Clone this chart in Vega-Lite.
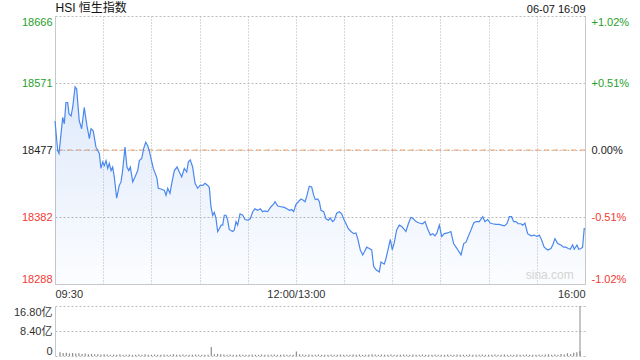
{
  "$schema": "https://vega.github.io/schema/vega-lite/v6.json",
  "background": "white",
  "padding": {"left": 13, "top": 1, "right": 5, "bottom": 0},
  "spacing": 6,
  "config": {
    "view": {"stroke": null},
    "font": "Liberation Sans, Noto Sans CJK SC",
    "axis": {
      "labelFont": "Liberation Sans, Noto Sans CJK SC",
      "labelFontSize": 11,
      "labelColor": "#333333",
      "ticks": false,
      "tickSize": 0,
      "labelOverlap": false,
      "title": null,
      "gridColor": "#b4b4b4",
      "gridOpacity": 1,
      "gridWidth": 1,
      "gridDash": [1, 2],
      "domainColor": "#c8c8c8"
    }
  },
  "datasets": {
    "px": [
      {"m":0,"v":18518},{"m":1.7,"v":18476},{"m":2.5,"v":18472},{"m":4.8,"v":18523},{"m":5.8,"v":18514},{"m":6.8,"v":18544},{"m":7.9,"v":18544},{"m":8.7,"v":18528},{"m":10,"v":18525},{"m":11,"v":18537},{"m":12.5,"v":18566},{"m":13.5,"v":18563},{"m":15.1,"v":18518},{"m":16.6,"v":18507},{"m":18.2,"v":18537},{"m":19.9,"v":18511},{"m":21.4,"v":18493},{"m":22.4,"v":18507},{"m":23.8,"v":18504},{"m":25.5,"v":18481},{"m":27.6,"v":18472},{"m":28.6,"v":18451},{"m":29.7,"v":18460},{"m":30.7,"v":18455},{"m":31.8,"v":18462},{"m":32.8,"v":18451},{"m":33.8,"v":18458},{"m":34.9,"v":18448},{"m":35.9,"v":18453},{"m":36.9,"v":18439},{"m":38.4,"v":18409},{"m":40,"v":18427},{"m":41.1,"v":18432},{"m":42.1,"v":18448},{"m":43.6,"v":18481},{"m":44.8,"v":18453},{"m":45.9,"v":18448},{"m":46.9,"v":18453},{"m":48.4,"v":18432},{"m":49.8,"v":18439},{"m":51.5,"v":18448},{"m":52.5,"v":18462},{"m":54,"v":18465},{"m":55.2,"v":18479},{"m":56.5,"v":18488},{"m":57.7,"v":18483},{"m":58.7,"v":18476},{"m":59.8,"v":18465},{"m":61.2,"v":18451},{"m":62.4,"v":18444},{"m":63.5,"v":18437},{"m":64.3,"v":18423},{"m":66,"v":18422},{"m":68.1,"v":18420},{"m":69.1,"v":18413},{"m":70.2,"v":18423},{"m":71.6,"v":18416},{"m":72.7,"v":18430},{"m":74.3,"v":18448},{"m":76,"v":18453},{"m":77.4,"v":18446},{"m":78.9,"v":18439},{"m":80.5,"v":18451},{"m":82,"v":18446},{"m":83,"v":18460},{"m":84.2,"v":18463},{"m":85.7,"v":18453},{"m":87.2,"v":18430},{"m":88.8,"v":18423},{"m":90.3,"v":18427},{"m":92,"v":18427},{"m":93.4,"v":18430},{"m":95.1,"v":18427},{"m":96.1,"v":18424},{"m":97.1,"v":18397},{"m":98.2,"v":18385},{"m":99.2,"v":18389},{"m":100.2,"v":18381},{"m":101.3,"v":18362},{"m":102.3,"v":18366},{"m":103.4,"v":18371},{"m":104.4,"v":18371},{"m":105.4,"v":18385},{"m":106.5,"v":18385},{"m":107.5,"v":18378},{"m":108.5,"v":18365},{"m":110.6,"v":18362},{"m":111.6,"v":18364},{"m":112.7,"v":18376},{"m":113.7,"v":18371},{"m":115.2,"v":18387},{"m":116.9,"v":18385},{"m":118.3,"v":18379},{"m":120,"v":18378},{"m":121.6,"v":18380},{"m":123.1,"v":18390},{"m":124.5,"v":18394},{"m":126.2,"v":18392},{"m":127.8,"v":18394},{"m":129.3,"v":18390},{"m":130.3,"v":18391},{"m":132.4,"v":18390},{"m":134.5,"v":18397},{"m":136.2,"v":18401},{"m":137,"v":18404},{"m":138.7,"v":18398},{"m":140.7,"v":18397},{"m":142.8,"v":18396},{"m":144.4,"v":18394},{"m":145.9,"v":18392},{"m":147.4,"v":18393},{"m":148.6,"v":18390},{"m":150,"v":18400},{"m":151.5,"v":18404},{"m":153.2,"v":18408},{"m":154.6,"v":18406},{"m":155.7,"v":18404},{"m":156.9,"v":18413},{"m":158.3,"v":18426},{"m":159.8,"v":18425},{"m":161.1,"v":18413},{"m":162.1,"v":18407},{"m":163.6,"v":18408},{"m":164.6,"v":18404},{"m":165.6,"v":18392},{"m":167.3,"v":18390},{"m":168.7,"v":18380},{"m":170.2,"v":18378},{"m":171.4,"v":18381},{"m":172.9,"v":18376},{"m":173.9,"v":18378},{"m":175.4,"v":18388},{"m":177,"v":18390},{"m":178.5,"v":18387},{"m":179.7,"v":18380},{"m":181.2,"v":18373},{"m":182.6,"v":18366},{"m":184.3,"v":18362},{"m":186,"v":18359},{"m":187.4,"v":18360},{"m":188.5,"v":18352},{"m":190.1,"v":18336},{"m":191.6,"v":18329},{"m":192.6,"v":18333},{"m":194.1,"v":18340},{"m":195.7,"v":18338},{"m":197.2,"v":18336},{"m":198.4,"v":18313},{"m":199.9,"v":18308},{"m":201.9,"v":18305},{"m":203,"v":18319},{"m":205,"v":18316},{"m":206.1,"v":18324},{"m":207.5,"v":18338},{"m":208.8,"v":18351},{"m":210,"v":18336},{"m":211.3,"v":18347},{"m":212.7,"v":18364},{"m":213.6,"v":18368},{"m":214.4,"v":18371},{"m":215.9,"v":18369},{"m":217.1,"v":18366},{"m":218.5,"v":18362},{"m":220,"v":18373},{"m":221.6,"v":18382},{"m":223.1,"v":18380},{"m":224.8,"v":18376},{"m":226.8,"v":18374},{"m":228.9,"v":18373},{"m":230.4,"v":18376},{"m":232,"v":18366},{"m":233.7,"v":18357},{"m":235.2,"v":18359},{"m":236.6,"v":18356},{"m":237.8,"v":18360},{"m":239.3,"v":18371},{"m":240.8,"v":18355},{"m":242.4,"v":18359},{"m":244.5,"v":18360},{"m":246.5,"v":18362},{"m":248.2,"v":18345},{"m":250.3,"v":18338},{"m":251.7,"v":18333},{"m":252.8,"v":18329},{"m":254.5,"v":18345},{"m":255.9,"v":18347},{"m":257.3,"v":18355},{"m":259,"v":18364},{"m":260.7,"v":18374},{"m":262.1,"v":18376},{"m":264.2,"v":18376},{"m":266.3,"v":18383},{"m":267.7,"v":18376},{"m":269.4,"v":18379},{"m":271,"v":18374},{"m":272.5,"v":18373},{"m":274.6,"v":18372},{"m":276.6,"v":18372},{"m":278.1,"v":18371},{"m":279.8,"v":18370},{"m":281.4,"v":18373},{"m":282.9,"v":18383},{"m":284.3,"v":18383},{"m":285.6,"v":18376},{"m":287,"v":18376},{"m":288.4,"v":18373},{"m":290.1,"v":18373},{"m":291.2,"v":18371},{"m":292.6,"v":18374},{"m":294.3,"v":18359},{"m":296.4,"v":18356},{"m":298.4,"v":18357},{"m":300.1,"v":18355},{"m":301.5,"v":18357},{"m":303,"v":18350},{"m":304.6,"v":18340},{"m":306.8,"v":18336},{"m":308.8,"v":18338},{"m":309.9,"v":18343},{"m":311.3,"v":18352},{"m":313,"v":18345},{"m":315,"v":18343},{"m":316.7,"v":18340},{"m":318.1,"v":18340},{"m":319.6,"v":18338},{"m":320.8,"v":18337},{"m":322.3,"v":18343},{"m":323.3,"v":18337},{"m":325,"v":18343},{"m":326.1,"v":18337},{"m":327.5,"v":18338},{"m":328.5,"v":18340},{"m":329.5,"v":18366},{"m":330,"v":18366}
    ],
    "vol": [
      {"m":0,"q":1.3},{"m":2,"q":1.0},{"m":4,"q":1.1},{"m":6,"q":0.9},{"m":8,"q":1.0},{"m":10,"q":0.8},{"m":12,"q":0.9},{"m":14,"q":0.7},{"m":16,"q":0.8},{"m":18,"q":0.6},{"m":20,"q":0.7},{"m":22,"q":0.6},{"m":24,"q":0.6},{"m":26,"q":0.5},{"m":28,"q":0.6},{"m":30,"q":0.5},{"m":32,"q":0.4},{"m":34,"q":0.5},{"m":36,"q":0.4},{"m":38,"q":0.6},{"m":40,"q":0.4},{"m":42,"q":0.4},{"m":44,"q":0.5},{"m":46,"q":0.4},{"m":48,"q":0.4},{"m":50,"q":0.5},{"m":52,"q":0.4},{"m":54,"q":0.6},{"m":56,"q":0.4},{"m":58,"q":0.4},{"m":60,"q":0.5},{"m":62,"q":0.4},{"m":64,"q":0.4},{"m":66,"q":0.5},{"m":68,"q":0.4},{"m":70,"q":0.4},{"m":72,"q":0.6},{"m":74,"q":0.4},{"m":76,"q":0.4},{"m":78,"q":0.5},{"m":80,"q":0.4},{"m":82,"q":0.4},{"m":84,"q":0.4},{"m":86,"q":0.5},{"m":88,"q":0.4},{"m":90,"q":0.4},{"m":92,"q":0.4},{"m":94,"q":0.4},{"m":96,"q":3.0},{"m":98,"q":0.6},{"m":100,"q":0.7},{"m":102,"q":0.6},{"m":104,"q":0.5},{"m":106,"q":0.4},{"m":108,"q":0.5},{"m":110,"q":0.4},{"m":112,"q":0.4},{"m":114,"q":0.5},{"m":116,"q":0.4},{"m":118,"q":0.4},{"m":120,"q":0.4},{"m":122,"q":0.5},{"m":124,"q":0.4},{"m":126,"q":0.4},{"m":128,"q":0.5},{"m":130,"q":0.4},{"m":132,"q":0.4},{"m":134,"q":0.4},{"m":136,"q":0.5},{"m":138,"q":0.4},{"m":140,"q":0.4},{"m":142,"q":0.5},{"m":144,"q":0.4},{"m":146,"q":0.4},{"m":148,"q":0.4},{"m":150,"q":1.5},{"m":152,"q":0.6},{"m":154,"q":0.5},{"m":156,"q":0.4},{"m":158,"q":0.5},{"m":160,"q":0.4},{"m":162,"q":0.4},{"m":164,"q":0.5},{"m":166,"q":0.4},{"m":168,"q":0.4},{"m":170,"q":0.4},{"m":172,"q":0.5},{"m":174,"q":0.4},{"m":176,"q":0.4},{"m":178,"q":0.5},{"m":180,"q":0.4},{"m":182,"q":0.4},{"m":184,"q":0.4},{"m":186,"q":0.5},{"m":188,"q":0.4},{"m":190,"q":0.5},{"m":192,"q":0.4},{"m":194,"q":0.4},{"m":196,"q":0.5},{"m":198,"q":0.6},{"m":200,"q":0.5},{"m":202,"q":0.4},{"m":204,"q":0.5},{"m":206,"q":0.4},{"m":208,"q":0.4},{"m":210,"q":0.5},{"m":212,"q":0.4},{"m":214,"q":0.4},{"m":216,"q":0.4},{"m":218,"q":0.5},{"m":220,"q":0.4},{"m":222,"q":0.4},{"m":224,"q":0.5},{"m":226,"q":0.4},{"m":228,"q":0.4},{"m":230,"q":0.5},{"m":232,"q":0.4},{"m":234,"q":0.4},{"m":236,"q":0.4},{"m":238,"q":0.5},{"m":240,"q":0.4},{"m":242,"q":0.4},{"m":244,"q":0.4},{"m":246,"q":0.5},{"m":248,"q":0.4},{"m":250,"q":0.4},{"m":252,"q":0.5},{"m":254,"q":0.4},{"m":256,"q":0.4},{"m":258,"q":0.4},{"m":260,"q":0.5},{"m":262,"q":0.4},{"m":264,"q":0.4},{"m":266,"q":0.4},{"m":268,"q":0.5},{"m":270,"q":0.4},{"m":272,"q":0.4},{"m":274,"q":0.4},{"m":276,"q":0.5},{"m":278,"q":0.4},{"m":280,"q":0.4},{"m":282,"q":0.5},{"m":284,"q":0.4},{"m":286,"q":0.4},{"m":288,"q":0.4},{"m":290,"q":0.5},{"m":292,"q":0.4},{"m":294,"q":0.4},{"m":296,"q":0.5},{"m":298,"q":0.4},{"m":300,"q":0.4},{"m":302,"q":0.4},{"m":304,"q":0.5},{"m":306,"q":0.4},{"m":308,"q":0.5},{"m":310,"q":0.6},{"m":312,"q":0.4},{"m":314,"q":0.5},{"m":316,"q":0.4},{"m":318,"q":0.7},{"m":320,"q":0.5},{"m":322,"q":0.9},{"m":324,"q":0.6},{"m":326,"q":1.1},{"m":328,"q":1.3},{"m":330,"q":1.6}
    ]
  },
  "vconcat": [
    {
      "width": 530,
      "height": 268,
      "layer": [
        {
          "data": {"values": [{"p": 18477}]},
          "mark": {"type": "rule", "color": "#f2a06a", "strokeDash": [5, 4], "strokeWidth": 1},
          "encoding": {
            "y": {"field": "p", "type": "quantitative", "scale": {"domain": [18288, 18666], "nice": false, "zero": false}, "axis": null}
          }
        },
        {
          "data": {"name": "px"},
          "mark": {
            "type": "area",
            "color": {
              "gradient": "linear", "x1": 0, "y1": 0, "x2": 0, "y2": 1,
              "stops": [
                {"offset": 0, "color": "rgba(90,145,235,0.20)"},
                {"offset": 1, "color": "rgba(90,145,235,0.02)"}
              ]
            }
          },
          "encoding": {
            "x": {
              "field": "m", "type": "quantitative",
              "scale": {"domain": [0, 330], "nice": false, "zero": false},
              "axis": {
                "orient": "bottom",
                "values": [0, 30, 60, 90, 120, 150, 180, 210, 240, 270, 300, 330],
                "labelExpr": "datum.value == 0 ? '09:30' : datum.value == 150 ? '12:00/13:00' : datum.value == 330 ? '16:00' : ''",
                "labelFlush": true,
                "labelPadding": 4,
                "grid": true,
                "domain": true
              }
            },
            "y": {
              "field": "v", "type": "quantitative",
              "scale": {"domain": [18288, 18666], "nice": false, "zero": false},
              "axis": {
                "orient": "left",
                "values": [18288, 18382.5, 18477, 18571.5, 18666],
                "labelExpr": "'' + floor(datum.value)",
                "labelFlush": true,
                "labelPadding": 3,
                "grid": true,
                "gridColor": "#bbbbbb",
                "gridDash": [2, 2],
                "domain": true,
                "labelColor": {
                  "condition": [
                    {"test": "datum.value > 18478", "value": "#1f9f2a"},
                    {"test": "datum.value < 18476", "value": "#f03a32"}
                  ],
                  "value": "#222222"
                }
              }
            },
            "y2": {"datum": 18288}
          }
        },
        {
          "data": {"name": "px"},
          "mark": {"type": "line", "color": "#4a88ee", "strokeWidth": 1.2},
          "encoding": {
            "x": {
              "field": "m", "type": "quantitative",
              "scale": {"domain": [0, 330], "nice": false, "zero": false},
              "axis": {
                "orient": "top",
                "values": [0, 330],
                "labelExpr": "datum.value == 0 ? 'HSI 恒生指数' : '06-07 16:09'",
                "labelFlush": true,
                "labelPadding": 2,
                "grid": false,
                "domain": false,
                "labelColor": "#111111",
                "labelFontSize": {"condition": {"test": "datum.value == 0", "value": 12}, "value": 11}
              }
            },
            "y": {
              "field": "v", "type": "quantitative",
              "scale": {"domain": [18288, 18666], "nice": false, "zero": false},
              "axis": {
                "orient": "right",
                "values": [18288, 18382.5, 18477, 18571.5, 18666],
                "labelExpr": "datum.value == 18477 ? '0.00%' : (datum.value > 18477 ? '+' : '-') + format(abs(datum.value - 18477) / 18477 * 100, '.2f') + '%'",
                "labelFlush": true,
                "labelPadding": 6,
                "grid": false,
                "domain": true,
                "labelColor": {
                  "condition": [
                    {"test": "datum.value > 18478", "value": "#1f9f2a"},
                    {"test": "datum.value < 18476", "value": "#f03a32"}
                  ],
                  "value": "#222222"
                }
              }
            }
          }
        },
        {
          "data": {"values": [{"m": 323, "v": 18288, "t": "sina.com"}]},
          "mark": {"type": "text", "align": "right", "baseline": "bottom", "dy": -2, "color": "#d4d4d4", "fontSize": 12},
          "encoding": {
            "x": {"field": "m", "type": "quantitative", "scale": {"domain": [0, 330], "nice": false, "zero": false}, "axis": null},
            "y": {"field": "v", "type": "quantitative", "scale": {"domain": [18288, 18666], "nice": false, "zero": false}, "axis": null},
            "text": {"field": "t"}
          }
        }
      ],
      "resolve": {"axis": {"x": "independent", "y": "independent"}}
    },
    {
      "width": 530,
      "height": 50,
      "layer": [
        {
          "data": {"name": "vol"},
          "mark": {"type": "bar", "color": "#8c8c8c", "size": 1.2},
          "encoding": {
            "x": {"field": "m", "type": "quantitative", "scale": {"domain": [0, 330], "nice": false, "zero": false}, "axis": null},
            "y": {
              "field": "q", "type": "quantitative",
              "scale": {"domain": [0, 16.8], "nice": false},
              "axis": {
                "values": [0, 8.4, 16.8],
                "labelExpr": "datum.value == 0 ? '0' : format(datum.value, '.2f') + '亿'",
                "labelFlush": true,
                "labelPadding": 3,
                "grid": true,
                "gridColor": "#bbbbbb",
                "gridDash": [2, 2],
                "domain": true
              }
            }
          }
        },
        {
          "data": {"values": [{"m": 330}]},
          "mark": {"type": "rule", "color": "#8c8c8c"},
          "encoding": {
            "x": {"field": "m", "type": "quantitative", "scale": {"domain": [0, 330], "nice": false, "zero": false}, "axis": null}
          }
        }
      ]
    }
  ]
}
